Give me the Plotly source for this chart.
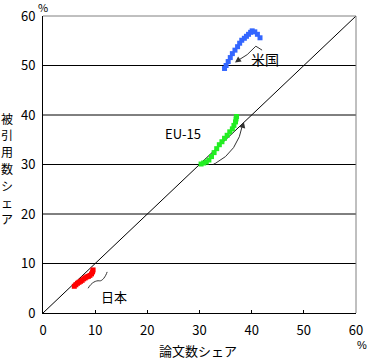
import plotly.graph_objects as go

# Data (paper share %, citation share %)
us_x = [34.8, 35.1, 35.5, 35.9, 36.3, 36.8, 37.3, 37.7, 38.1, 38.6, 39.0, 39.4, 39.8, 40.1, 40.6, 41.1, 41.6]
us_y = [49.4, 50.0, 50.8, 51.6, 52.4, 53.1, 53.8, 54.5, 55.1, 55.5, 55.9, 56.3, 56.7, 57.0, 56.8, 56.3, 55.6]
eu_x = [30.3, 30.8, 31.3, 31.8, 32.3, 32.8, 33.3, 33.8, 34.3, 34.8, 35.3, 35.8, 36.3, 36.6, 36.9, 37.0, 37.1]
eu_y = [30.1, 30.3, 30.5, 30.9, 31.6, 32.4, 33.2, 34.0, 34.6, 35.3, 35.9, 36.6, 37.2, 37.9, 38.6, 39.2, 39.7]
jp_x = [6.0, 6.3, 6.6, 6.9, 7.2, 7.5, 7.8, 8.1, 8.4, 8.7, 9.0, 9.3, 9.5, 9.6]
jp_y = [5.4, 5.7, 6.0, 6.2, 6.4, 6.6, 6.9, 7.1, 7.3, 7.4, 7.6, 7.9, 8.3, 8.7]
diag = [0, 60]
ticks = [0, 10, 20, 30, 40, 50, 60]
grid_y = [10, 20, 30, 40, 50]
y_title = "被引用数シェア"
x_title = "論文数シェア"

FONT = "Noto Sans CJK JP"
L, R, T, B, W, H = 43, 13, 16, 46, 369, 359
pw, ph = W - L - R, H - T - B

def px_x(v):
    return (v - L) / pw

def px_y(v):
    return (H - B - v) / ph

fig = go.Figure()
fig.add_trace(go.Scatter(x=diag, y=diag, mode="lines", line=dict(color="black", width=1), hoverinfo="skip"))
for xs, ys, col in [(us_x, us_y, "#3366FF"), (eu_x, eu_y, "#22EE22"), (jp_x, jp_y, "#FF0000")]:
    fig.add_trace(go.Scatter(x=xs, y=ys, mode="markers",
                             marker=dict(color=col, size=5, symbol="square", line=dict(width=0))))

shapes = []
for g in grid_y:
    shapes.append(dict(type="line", xref="paper", yref="y", x0=0, x1=1, y0=g, y1=g,
                       line=dict(color="black", width=1), layer="below"))
shapes.append(dict(type="line", xref="paper", yref="paper", x0=0, x1=1, y0=1, y1=1,
                   line=dict(color="#808080", width=1)))
shapes.append(dict(type="line", xref="paper", yref="paper", x0=1, x1=1, y0=0, y1=1,
                   line=dict(color="#808080", width=1)))
arrow_col = "#333333"
# curved arrow paths
shapes.append(dict(type="path", xref="x", yref="y",
                   path="M 42.0,53.1 L 40.8,53.9 Q 39.3,52.0 37.2,50.9",
                   line=dict(color=arrow_col, width=1)))
shapes.append(dict(type="path", xref="x", yref="y",
                   path="M 32.7,30.1 L 33.0,30.2 Q 37.4,32.6 38.3,38.2",
                   line=dict(color=arrow_col, width=1)))
shapes.append(dict(type="path", xref="x", yref="y",
                   path="M 8.65,5.0 C 9.3,6.2 10.2,6.6 10.8,6.5 S 12.0,7.4 12.3,8.3",
                   line=dict(color=arrow_col, width=1)))

ann = []
# arrowheads
for hx, hy, tx, ty in [(36.8, 50.6, 37.6, 51.2), (38.5, 38.6, 38.3, 37.8), (12.5, 8.55, 12.2, 8.0)]:
    ann.append(dict(x=hx, y=hy, ax=tx, ay=ty, xref="x", yref="y", axref="x", ayref="y",
                    text="", showarrow=True, arrowhead=2, arrowsize=1.2, arrowwidth=1,
                    arrowcolor=arrow_col))
ann.append(dict(x=42.6, y=51.3, xref="x", yref="y", text="米国", showarrow=False,
                font=dict(family=FONT, size=14, color="black")))
ann.append(dict(x=26.8, y=36.2, xref="x", yref="y", text="EU-15", showarrow=False,
                font=dict(family=FONT, size=13, color="black")))
ann.append(dict(x=13.6, y=3.4, xref="x", yref="y", text="日本", showarrow=False,
                font=dict(family=FONT, size=13, color="black")))
# stacked vertical y-axis title, one character per annotation
for i, ch in enumerate(y_title):
    ann.append(dict(x=px_x(7), y=px_y(118 + i * 16.8), xref="paper", yref="paper",
                    xanchor="center", yanchor="middle", text=ch, showarrow=False,
                    font=dict(family=FONT, size=12, color="black")))
ann.append(dict(x=px_x(43), y=px_y(7), xref="paper", yref="paper", xanchor="center", yanchor="middle",
                text="%", showarrow=False, font=dict(family=FONT, size=11, color="black")))
ann.append(dict(x=px_x(362), y=px_y(345), xref="paper", yref="paper", xanchor="center", yanchor="middle",
                text="%", showarrow=False, font=dict(family="Liberation Sans", size=11, color="black")))
ann.append(dict(x=px_x(198), y=px_y(350), xref="paper", yref="paper", xanchor="center", yanchor="middle",
                text=x_title, showarrow=False, font=dict(family=FONT, size=13, color="black")))

fig.update_layout(
    width=W, height=H,
    margin=dict(l=L, r=R, t=T, b=B, pad=0, autoexpand=False),
    paper_bgcolor="white", plot_bgcolor="white",
    showlegend=False,
    shapes=shapes, annotations=ann,
    font=dict(family=FONT, size=12, color="black"),
)
fig.update_xaxes(range=[0, 60], tickvals=ticks, ticktext=[str(t) for t in ticks], automargin=False,
                 showgrid=False, zeroline=False, showline=True, linecolor="black", linewidth=1,
                 ticks="inside", ticklen=3, tickcolor="black", ticklabelstandoff=5,
                 tickfont=dict(family=FONT, size=13))
fig.update_yaxes(range=[0, 60], tickvals=ticks, ticktext=[str(t) for t in ticks], automargin=False,
                 showgrid=False, zeroline=False, showline=True, linecolor="black", linewidth=1,
                 ticks="", ticklabelstandoff=4, tickfont=dict(family=FONT, size=13))

fig.write_html("out.html")
